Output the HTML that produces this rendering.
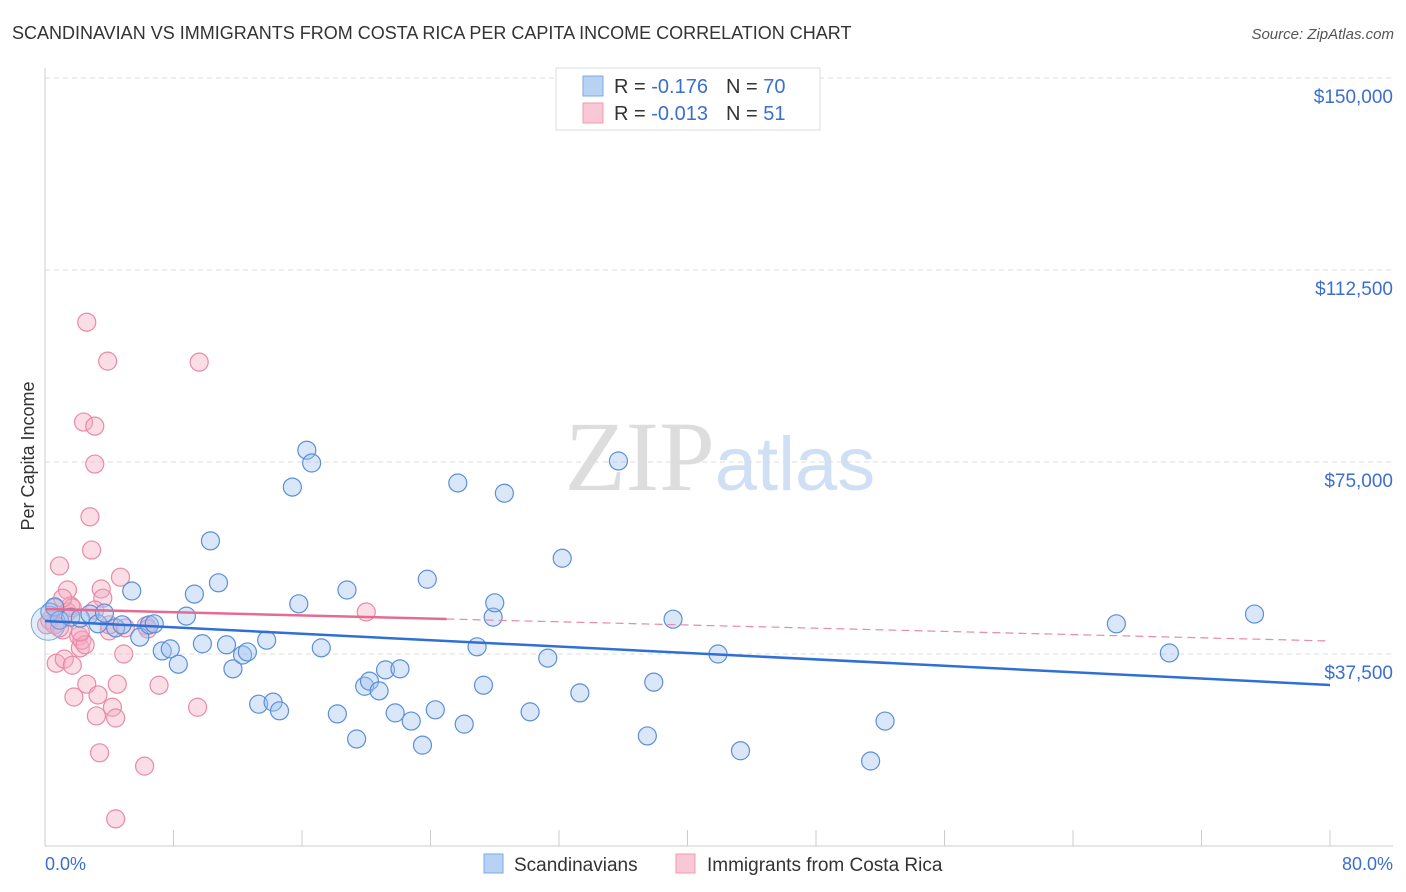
<!DOCTYPE html>
<html><head><meta charset="utf-8"><style>
body{margin:0;background:#fff;font-family:"Liberation Sans",sans-serif}
svg{display:block}
</style></head><body>
<svg id="chart" width="1406" height="892" xmlns="http://www.w3.org/2000/svg" font-family="Liberation Sans, sans-serif">
<text x="12" y="39" font-size="18" fill="#333">SCANDINAVIAN VS IMMIGRANTS FROM COSTA RICA PER CAPITA INCOME CORRELATION CHART</text>
<text x="1394" y="39" font-size="15" fill="#555" text-anchor="end" font-style="italic">Source: ZipAtlas.com</text>
<text x="720" y="490" font-size="100" text-anchor="middle" fill="#ddd" font-family="Liberation Serif, serif">ZIP<tspan fill="#cfe0f5" font-family="Liberation Sans, sans-serif" font-size="76">atlas</tspan></text>
<text transform="translate(34,456) rotate(-90)" font-size="18" fill="#333" text-anchor="middle">Per Capita Income</text>
<g id="grid"></g><g id="marks"></g><g id="trends"></g>
<g>
<rect x="556" y="68" width="264" height="62" fill="#fff" stroke="#ddd"/>
<rect x="583" y="76" width="20" height="20" fill="#b8d2f4" stroke="#7ea9e4"/>
<rect x="583" y="103" width="20" height="20" fill="#f9c7d5" stroke="#eb9db4"/>
<text x="614" y="93" font-size="20" fill="#333">R = <tspan fill="#3a6fd0"> -0.176</tspan><tspan dx="18">N = </tspan><tspan fill="#3a6fd0">70</tspan></text>
<text x="614" y="120" font-size="20" fill="#333">R = <tspan fill="#3a6fd0">-0.013</tspan><tspan dx="18">N = </tspan><tspan fill="#3a6fd0"> 51</tspan></text>
</g>
<g>
<rect x="484" y="854" width="19" height="19" fill="#b8d2f4" stroke="#7ea9e4"/>
<text x="514" y="871" font-size="19" fill="#333">Scandinavians</text>
<rect x="676" y="854" width="19" height="19" fill="#f9c7d5" stroke="#eb9db4"/>
<text x="707" y="871" font-size="19" fill="#333">Immigrants from Costa Rica</text>
</g>
<text x="45" y="870" font-size="18" fill="#3a6fd0">0.0%</text>
<text x="1393" y="870" font-size="18" fill="#3a6fd0" text-anchor="end">80.0%</text>
</svg>
<script>
const yTicks=[37500,75000,112500,150000];
const yTickLabels=["$37,500","$75,000","$112,500","$150,000"];
const xTicks=[0,8,16,24,32,40,48,56,64,72,80];
const blueX=[0.3,0.6,0.9,1.6,2.2,2.8,3.3,3.7,4.4,4.8,5.4,5.9,6.5,6.8,7.3,7.8,8.3,8.8,9.3,9.8,10.3,10.8,11.3,11.7,12.3,12.6,13.3,13.8,14.2,14.6,15.4,15.8,16.3,16.6,17.2,18.2,18.8,19.4,19.9,20.2,20.8,21.2,21.8,22.1,22.8,23.5,23.8,24.3,25.7,26.1,26.9,27.3,27.9,28.0,28.6,30.2,31.3,32.2,33.3,35.7,37.5,37.9,39.1,41.9,43.3,51.4,52.3,66.7,70.0,75.3];
const blueY=[45700,46700,44100,44700,44500,45300,43400,45500,42600,43200,49800,40800,43200,43400,38100,38500,35500,44900,49200,39500,59600,51400,39300,34600,37300,37900,27700,40200,28100,26400,70100,47300,77300,74800,38700,25800,50000,20900,31200,32200,30300,34400,26000,34600,24400,19700,52100,26600,70900,23800,38900,31400,44700,47500,68900,26200,36700,56200,29900,75200,21500,32000,44300,37500,18600,16600,24400,43400,37700,45300];
const pinkX=[0.1,0.3,0.6,0.7,0.9,1.1,1.2,1.4,1.6,1.7,1.8,2.1,2.2,2.3,2.4,2.6,2.6,2.8,2.9,3.1,3.1,3.2,3.3,3.4,3.5,3.6,3.9,4.0,4.2,4.4,4.5,4.7,4.9,6.2,6.3,6.4,7.1,9.5,9.6,20.0,4.4,0.6,0.9,1.4,1.7,2.5,4.0,5.0,1.1,2.2,3.1];
const pinkY=[43200,44100,46500,35700,54700,42200,36500,50000,46900,35300,29100,41000,38700,40200,82800,31600,102300,64300,57800,74600,82000,25400,29500,18200,50200,48400,94700,42000,27100,25000,31600,52500,37500,15600,43000,42400,31400,27100,94500,45700,5300,43200,42600,45700,46500,39300,43200,42600,48400,41800,46100];
const blueTrend=[43950,31450];
const pinkTrend=[46290,40040];
const pinkSolidEnd=25;
const NS="http://www.w3.org/2000/svg";
const X0=45,X1=1330,Y0=846,PXPER=192/37500;
const sx=v=>X0+(v/80)*(X1-X0);
const sy=v=>Y0-v*PXPER;
function mk(tag,attrs,parent){const e=document.createElementNS(NS,tag);for(const k in attrs)e.setAttribute(k,attrs[k]);parent.appendChild(e);return e;}
const grid=document.getElementById('grid');
yTicks.forEach((t,i)=>{
 const l=mk('line',{x1:X0,x2:1393,y1:sy(t),y2:sy(t),stroke:'#ddd','stroke-dasharray':'5,4'},grid);
 
 
 const tx=mk('text',{x:1393,y:sy(t)+25,'font-size':19,fill:'#3a6fd0','text-anchor':'end'},grid);
 tx.textContent=yTickLabels[i];
 
 
});
const ax=mk('line',{x1:X0,x2:X0,y1:68,y2:Y0,stroke:'#ccc'},grid);


const bx=mk('line',{x1:X0,x2:1393,y1:Y0,y2:Y0,stroke:'#ccc'},grid);


xTicks.forEach(t=>{
 const l=mk('line',{x1:sx(t),x2:sx(t),y1:Y0-16,y2:Y0,stroke:'#ccc'},grid);
 
 
});
const marks=document.getElementById('marks');
pinkX.forEach((x,i)=>{
 const c=mk('circle',{cx:sx(x),cy:sy(pinkY[i]),r:9,fill:'rgba(245,170,192,0.4)',stroke:'#e88aa8','stroke-width':1.2},marks);
 
 
});
blueX.forEach((x,i)=>{
 const c=mk('circle',{cx:sx(x),cy:sy(blueY[i]),r:9,fill:'rgba(160,195,240,0.4)',stroke:'#5b8fd9','stroke-width':1.2},marks);
 
 
});
const big=mk('circle',{cx:sx(0.2),cy:sy(43500),r:17,fill:'rgba(160,195,240,0.3)',stroke:'#7ea9e4','stroke-width':1},marks);


const tr=document.getElementById('trends');
const lerp=(a,b,x)=>a+(b-a)*x/80;
const bt=mk('line',{x1:sx(0),y1:sy(blueTrend[0]),x2:sx(80),y2:sy(blueTrend[1]),stroke:'#2f6fd6','stroke-width':2.5},tr);


const pd=mk('line',{x1:sx(pinkSolidEnd),y1:sy(lerp(pinkTrend[0],pinkTrend[1],pinkSolidEnd)),x2:sx(80),y2:sy(pinkTrend[1]),stroke:'#e88aa8','stroke-width':1.2,'stroke-dasharray':'8,5'},tr);


const pt=mk('line',{x1:sx(0),y1:sy(pinkTrend[0]),x2:sx(pinkSolidEnd),y2:sy(lerp(pinkTrend[0],pinkTrend[1],pinkSolidEnd)),stroke:'#e56b93','stroke-width':2.5},tr);


</script>
</body></html>
